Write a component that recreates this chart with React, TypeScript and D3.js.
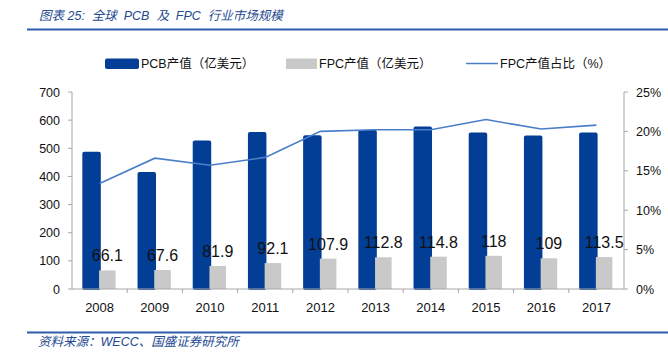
import React from "react";
import * as d3 from "d3";

const years = ["2008", "2009", "2010", "2011", "2012", "2013", "2014", "2015", "2016", "2017"];
const pcbValues = [488, 416, 528, 558, 546, 565, 577, 556, 545, 556];
const fpcValues = [66.1, 67.6, 81.9, 92.1, 107.9, 112.8, 114.8, 118, 109, 113.5];
const fpcShare = [13.4, 16.6, 15.7, 16.7, 20.0, 20.2, 20.2, 21.5, 20.3, 20.8];
const leftTicks = [0, 100, 200, 300, 400, 500, 600, 700];
const rightTicks = [0, 5, 10, 15, 20, 25];
const legendLabels = ["PCB产值（亿美元）", "FPC产值（亿美元）", "FPC产值占比（%）"];
const titleText = "图表 25:  全球  PCB  及  FPC  行业市场规模";
const sourceText = "资料来源：WECC、国盛证券研究所";

const W = 668;
const H = 355;
const plot = { left: 72, right: 624, top: 92, bottom: 289 };
const BLUE = "#023E96";
const GREY = "#C9C9C9";
const LINE = "#4A7EC8";
const AXIS = "#A6A6A6";
const TITLE_C = "#24498F";
const FONT = "'Liberation Sans', 'Noto Sans CJK SC', sans-serif";
const NARROW = "'Liberation Sans Narrow', 'Liberation Sans', sans-serif";

export default function App() {
  const x = d3.scaleBand<string>().domain(years).range([plot.left, plot.right]).padding(0);
  const bw = x.bandwidth();
  const yL = d3.scaleLinear().domain([0, 700]).range([plot.bottom, plot.top]);
  const yR = d3.scaleLinear().domain([0, 25]).range([plot.bottom, plot.top]);
  const line = d3
    .line<number>()
    .x((_, i) => (x(years[i]) as number) + bw / 2)
    .y((d) => yR(d));

  const blueOff = bw * 0.187;
  const blueW = bw * 0.335;
  const greyOff = bw * 0.49;
  const greyW = bw * 0.3;

  return (
    <svg width={W} height={H} style={{ position: "absolute", left: 0, top: 0 }}>
      <rect x={0} y={0} width={W} height={H} fill="#fff" />
      {/* title */}
      <text x={39} y={19.5} fontFamily={FONT} fontSize={12.5} fontStyle="italic" fill={TITLE_C} style={{ whiteSpace: "pre" }}>
        {titleText}
      </text>
      <line x1={27} x2={W} y1={29.5} y2={29.5} stroke="#2E5CA8" strokeWidth={2} />

      {/* legend */}
      <rect x={105} y={58.5} width={34} height={10.5} rx={2} fill={BLUE} />
      <text x={141} y={68} fontFamily={FONT} fontSize={12.5} fill="#111">{legendLabels[0]}</text>
      <rect x={286} y={58.5} width={31} height={10.5} fill={GREY} />
      <text x={319} y={68} fontFamily={FONT} fontSize={12.5} fill="#111">{legendLabels[1]}</text>
      <line x1={466} x2={498} y1={63.5} y2={63.5} stroke={LINE} strokeWidth={1.5} />
      <text x={500} y={68} fontFamily={FONT} fontSize={12.5} fill="#111">{legendLabels[2]}</text>

      {/* bars */}
      {years.map((yr, i) => (
        <g key={yr}>
          <rect x={(x(yr) as number) + blueOff} y={yL(pcbValues[i])} width={blueW} height={yL(0) - yL(pcbValues[i]) + 1} rx={2} fill={BLUE} />
          <rect x={(x(yr) as number) + greyOff} y={yL(fpcValues[i])} width={greyW} height={yL(0) - yL(fpcValues[i])} fill={GREY} />
        </g>
      ))}

      {/* axes */}
      <line x1={plot.left} x2={plot.left} y1={plot.top} y2={plot.bottom} stroke={AXIS} />
      <line x1={plot.right} x2={plot.right} y1={plot.top} y2={plot.bottom} stroke={AXIS} />
      <line x1={plot.left} x2={plot.right} y1={plot.bottom} y2={plot.bottom} stroke={AXIS} />
      {leftTicks.map((t) => (
        <g key={"l" + t}>
          <line x1={plot.left - 4} x2={plot.left} y1={yL(t)} y2={yL(t)} stroke={AXIS} />
          <text x={60} y={yL(t) + 4.5} textAnchor="end" fontFamily={FONT} fontSize={12.5} fill="#111">{t}</text>
        </g>
      ))}
      {rightTicks.map((t) => (
        <g key={"r" + t}>
          <line x1={plot.right} x2={plot.right + 4} y1={yR(t)} y2={yR(t)} stroke={AXIS} />
          <text x={636} y={yR(t) + 4.5} fontFamily={FONT} fontSize={12.5} fill="#111">{t + "%"}</text>
        </g>
      ))}
      {years.map((yr, i) => (
        <g key={"x" + yr}>
          {i > 0 && <line x1={x(yr) as number} x2={x(yr) as number} y1={plot.bottom} y2={plot.bottom + 4} stroke={AXIS} />}
          <text x={(x(yr) as number) + bw / 2} y={311.5} textAnchor="middle" fontFamily={FONT} fontSize={13} fill="#111">{yr}</text>
        </g>
      ))}

      {/* line */}
      <path d={line(fpcShare) || ""} fill="none" stroke={LINE} strokeWidth={1.6} />

      {/* data labels */}
      {years.map((yr, i) => (
        <text key={"d" + yr} x={(x(yr) as number) + greyOff + greyW / 2} y={yL(fpcValues[i]) - 9} textAnchor="middle" fontFamily={NARROW} fontSize={16} fill="#111">
          {String(fpcValues[i])}
        </text>
      ))}

      {/* footer */}
      <line x1={27} x2={W} y1={332.5} y2={332.5} stroke="#2E5CA8" strokeWidth={2} />
      <text x={38} y={345.5} fontFamily={FONT} fontSize={12.5} fontStyle="italic" fill={TITLE_C}>{sourceText}</text>
    </svg>
  );
}
